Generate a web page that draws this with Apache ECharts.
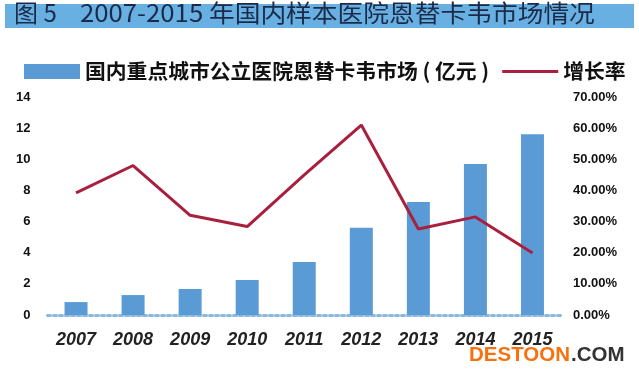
<!DOCTYPE html>
<html>
<head>
<meta charset="utf-8">
<script src="https://cdn.jsdelivr.net/npm/echarts@6/dist/echarts.min.js"></script>
<style>
html,body{margin:0;padding:0;background:#fff;}
#c{width:639px;height:379px;}
</style>
</head>
<body>
<div id="c"></div>
<script>
var years = ['2007','2008','2009','2010','2011','2012','2013','2014','2015'];
var marketValues = [0.83, 1.28, 1.67, 2.25, 3.4, 5.6, 7.26, 9.7, 11.6];
var growthRates = [39.2, 48.0, 32.0, 28.4, 45.0, 61.0, 27.6, 31.5, 19.9];
var barName = '国内重点城市公立医院恩替卡韦市场 ( 亿元 )';
var lineName = '增长率';
var titleLabel = '图 5';
var titleText = '2007-2015 年国内样本医院恩替卡韦市场情况';

var chart = echarts.init(document.getElementById('c'), null, {renderer:'canvas'});
var font = '"Noto Sans CJK SC", "Liberation Sans", sans-serif';
chart.setOption({
  backgroundColor:'#ffffff',
  animation:false,
  graphic:[
    {type:'rect', left:5, top:4, shape:{width:629, height:24}, style:{fill:'#68b0e2'}, silent:true},
    {type:'text', x:14, y:1, style:{text:titleLabel, fill:'#1b2a48', font:'24px ' + font}},
    {type:'text', x:80, y:1, scaleX:1.072, style:{text:titleText, fill:'#1b2a48', font:'24px ' + font}},
    {type:'text', left:469, top:345, style:{text:'DESTOON', fill:'#f7720e', font:'bold 20.5px "Liberation Sans", sans-serif'}},
    {type:'text', left:571, top:345, style:{text:'.COM', fill:'#333333', font:'bold 20.5px "Liberation Sans", sans-serif'}}
  ],
  legend:{
    left:19, top:56,
    itemWidth:56, itemHeight:15, itemGap:13,
    textStyle:{fontSize:20.8, fontWeight:'bold', color:'#111', fontFamily:font},
    data:[{name:barName, icon:'rect'}, {name:lineName, icon:'path://M0,0 L56,0 L56,3 L0,3 Z', itemStyle:{color:'#a8203e'}}]
  },
  grid:{left:47.5, right:78, top:97, bottom:64, containLabel:false},
  xAxis:{
    type:'category', data:years,
    axisLine:{lineStyle:{color:'#8ab8e0', width:3, type:'dotted'}},
    axisTick:{show:false},
    axisLabel:{margin:16, fontSize:18, fontStyle:'italic', fontWeight:'bold', color:'#222', fontFamily:'"Liberation Sans", sans-serif'}
  },
  yAxis:[
    {type:'value', min:0, max:14, interval:2,
     splitLine:{show:false}, axisLine:{show:false}, axisTick:{show:false},
     axisLabel:{margin:17, fontSize:13, fontWeight:'bold', color:'#111', fontFamily:'"Liberation Sans", sans-serif'}},
    {type:'value', min:0, max:70, interval:10,
     splitLine:{show:false}, axisLine:{show:false}, axisTick:{show:false},
     axisLabel:{margin:12, fontSize:13, fontWeight:'bold', color:'#111', fontFamily:'"Liberation Sans", sans-serif',
       formatter:function(v){return v.toFixed(2)+'%';}}}
  ],
  series:[
    {name:barName, type:'bar', data:marketValues, barWidth:23, itemStyle:{color:'#5b9bd5'}, z:2},
    {name:lineName, type:'line', yAxisIndex:1, data:growthRates, symbol:'none', showSymbol:false,
     lineStyle:{color:'#a8203e', width:3}, itemStyle:{color:'#a8203e'}, z:3}
  ]
});
</script>
</body>
</html>
